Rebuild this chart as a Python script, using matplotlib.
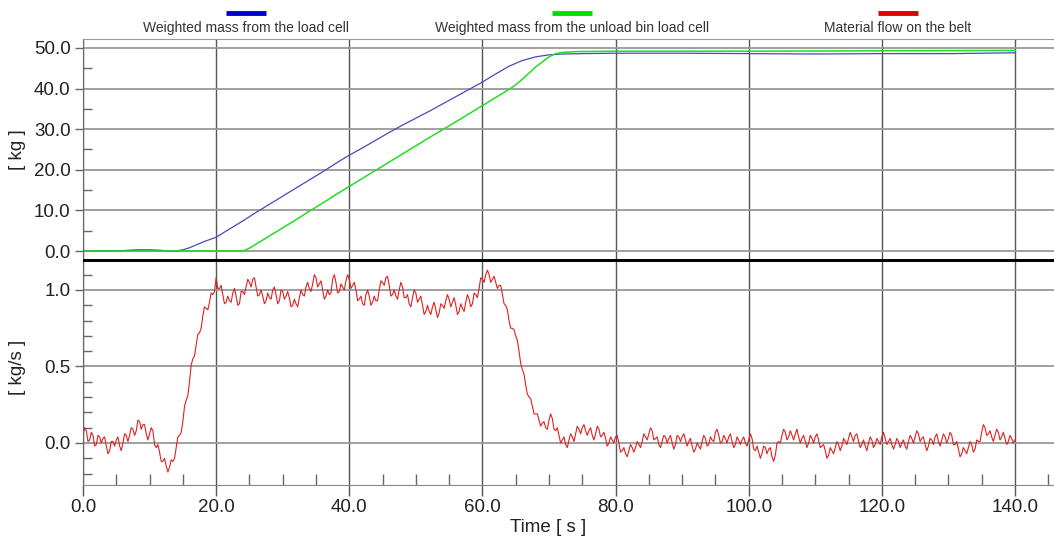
import numpy as np
import matplotlib
matplotlib.use("Agg")
import matplotlib.pyplot as plt
from matplotlib.lines import Line2D
from matplotlib.ticker import MultipleLocator, FormatStrFormatter

plt.rcParams['font.family'] = ['Liberation Sans', 'DejaVu Sans']

# ---- data ----
# weighted mass from the load cell [kg]
t_load = [0, 2, 4, 6, 8, 10, 12, 13, 14, 15, 16, 17, 18, 19, 20, 22, 24, 26, 28, 30,
          32, 34, 36, 38, 40, 42, 44, 46, 48, 50, 52, 54, 56, 58, 60, 62, 64, 66, 68, 70,
          72, 75, 80, 90, 100, 110, 120, 130, 140]
m_load = [0.0, 0.05, 0.0, 0.1, 0.3, 0.3, 0.15, -0.1, 0.0, 0.3, 0.8, 1.5, 2.2, 2.8, 3.4, 5.4, 7.4, 9.5, 11.5, 13.5,
          15.5, 17.5, 19.5, 21.6, 23.6, 25.4, 27.3, 29.2, 31.0, 32.7, 34.4, 36.2, 38.0, 39.8, 41.6, 43.6, 45.5, 46.9, 47.8, 48.3,
          48.5, 48.6, 48.7, 48.7, 48.6, 48.5, 48.6, 48.6, 48.8]

# weighted mass from the unload bin load cell [kg]
t_unload = [0, 10, 20, 24, 25, 26, 28, 30, 32, 34, 36, 38, 40, 44, 48, 52, 56, 60, 62, 64,
            65, 66, 68, 70, 71, 72, 74, 80, 100, 120, 140]
m_unload = [0.0, 0.0, 0.0, 0.0, 0.7, 1.7, 3.7, 5.7, 7.7, 9.8, 11.8, 13.9, 15.9, 19.9, 23.9, 27.9, 31.8, 35.8, 37.8, 39.8,
            40.9, 42.3, 45.3, 47.8, 48.6, 48.9, 49.1, 49.2, 49.2, 49.3, 49.4]

# material flow on the belt [kg/s], values at t = 0, 0.5, 1.0 ... 140 s
t_flow = np.arange(0, 140.5, 0.5)
flow = [
    0.05, 0.08, 0.02, 0.05, -0.01, 0.04, 0.03, -0.02, -0.05, 0.01,
    0.02, -0.02, 0.00, 0.05, 0.05, 0.09, 0.08, 0.14, 0.12, 0.06,
    0.06, 0.08, -0.03, -0.06, -0.12, -0.15, -0.16, -0.12, -0.03, 0.05,
    0.14, 0.28, 0.40, 0.55, 0.64, 0.72, 0.83, 0.88, 0.92, 0.97,
    1.08, 1.01, 0.97, 0.92, 0.93, 0.98, 0.96, 0.91, 0.99, 1.02,
    1.05, 1.07, 1.02, 0.97, 0.96, 0.93, 0.95, 1.00, 0.97, 0.93,
    0.99, 0.96, 0.95, 0.90, 0.91, 0.95, 0.97, 1.02, 1.01, 1.04,
    1.08, 1.04, 1.00, 0.96, 0.97, 1.07, 1.05, 0.99, 1.02, 1.06,
    1.07, 1.03, 1.00, 0.94, 0.91, 0.97, 0.96, 0.92, 0.93, 1.00,
    1.05, 1.08, 1.03, 0.97, 0.96, 1.00, 1.02, 0.95, 0.91, 0.95,
    0.98, 0.94, 0.90, 0.86, 0.86, 0.89, 0.87, 0.85, 0.90, 0.93,
    0.94, 0.92, 0.90, 0.86, 0.88, 0.92, 0.94, 0.91, 0.97, 1.01,
    1.07, 1.10, 1.10, 1.07, 1.05, 1.03, 0.97, 0.90, 0.80, 0.75,
    0.70, 0.60, 0.48, 0.38, 0.30, 0.24, 0.19, 0.15, 0.13, 0.10,
    0.15, 0.16, 0.08, 0.05, 0.02, -0.01, 0.02, 0.04, 0.06, 0.09,
    0.10, 0.08, 0.08, 0.05, 0.06, 0.09, 0.05, 0.03, 0.00, 0.02,
    0.04, 0.00, -0.05, -0.07, -0.05, -0.03, -0.03, -0.01, 0.01, 0.04,
    0.06, 0.08, 0.03, -0.01, 0.01, 0.04, 0.03, 0.00, -0.01, 0.04,
    0.04, 0.02, 0.01, -0.02, -0.04, -0.02, 0.01, 0.03, -0.01, 0.02,
    0.07, 0.05, 0.01, 0.03, 0.04, 0.01, -0.01, 0.02, 0.02, 0.00,
    0.02, 0.03, -0.05, -0.06, -0.07, -0.03, -0.04, -0.09, -0.08, 0.01,
    0.05, 0.07, 0.04, 0.05, 0.06, 0.04, 0.03, 0.01, 0.00, 0.03,
    0.04, 0.02, -0.02, -0.05, -0.08, -0.05, -0.03, -0.01, -0.02, 0.01,
    0.03, 0.04, 0.05, 0.01, -0.01, -0.02, 0.00, 0.02, -0.01, 0.01,
    0.04, 0.03, 0.01, -0.01, -0.01, 0.01, 0.00, -0.02, 0.01, 0.03,
    0.04, 0.06, 0.03, -0.01, -0.02, 0.02, 0.04, 0.01, 0.02, 0.04,
    0.03, 0.05, -0.01, -0.04, -0.07, -0.05, -0.03, -0.01, -0.04, 0.01,
    0.07, 0.10, 0.06, 0.04, 0.05, 0.07, 0.04, 0.03, 0.01, 0.03,
    0.02,
]
# in-between samples (t = 0.25, 0.75 ... 139.75 s), the jitter of the signal
t_flow_q = np.arange(0.25, 140, 0.5)
flow_q = [
    0.10, 0.01, 0.07, -0.02, 0.05, 0.00, 0.04, -0.07, 0.01, -0.02,
    0.04, -0.05, 0.06, 0.01, 0.10, 0.05, 0.15, 0.09, 0.12, 0.02,
    0.10, -0.01, -0.01, -0.12, -0.10, -0.19, -0.11, -0.10, 0.04, 0.07,
    0.24, 0.31, 0.51, 0.57, 0.71, 0.75, 0.89, 0.87, 0.98, 0.99,
    1.01, 1.03, 0.91, 0.96, 0.92, 1.01, 0.90, 0.99, 0.97, 1.07,
    1.02, 1.08, 0.96, 1.00, 0.91, 0.98, 0.94, 1.02, 0.91, 1.00,
    0.94, 0.99, 0.89, 0.94, 0.89, 1.00, 0.96, 1.05, 0.99, 1.10,
    1.02, 1.06, 0.94, 1.00, 0.98, 1.10, 0.98, 1.04, 1.00, 1.10,
    1.01, 1.05, 0.93, 0.96, 0.90, 1.00, 0.90, 0.96, 0.93, 1.06,
    1.03, 1.09, 0.96, 1.00, 0.94, 1.05, 0.95, 0.97, 0.89, 1.00,
    0.92, 0.96, 0.84, 0.90, 0.84, 0.92, 0.82, 0.91, 0.88, 0.97,
    0.89, 0.95, 0.84, 0.91, 0.86, 0.97, 0.89, 0.98, 0.95, 1.08,
    1.05, 1.13, 1.05, 1.09, 1.01, 1.03, 0.91, 0.87, 0.75, 0.74,
    0.67, 0.52, 0.45, 0.32, 0.29, 0.19, 0.19, 0.11, 0.14, 0.09,
    0.19, 0.09, 0.10, 0.00, 0.04, -0.03, 0.06, 0.01, 0.11, 0.06,
    0.12, 0.05, 0.10, 0.02, 0.11, 0.04, 0.07, -0.02, 0.04, 0.00,
    0.05, -0.06, -0.03, -0.09, -0.01, -0.06, 0.01, -0.03, 0.06, 0.02,
    0.10, 0.02, 0.04, -0.03, 0.05, 0.00, 0.05, -0.04, 0.05, 0.01,
    0.06, -0.02, 0.03, -0.06, 0.00, -0.04, 0.05, -0.02, 0.04, 0.01,
    0.09, 0.00, 0.05, 0.00, 0.06, -0.03, 0.04, -0.01, 0.04, -0.02,
    0.06, -0.04, -0.02, -0.10, -0.02, -0.07, -0.03, -0.12, 0.00, 0.00,
    0.09, 0.02, 0.08, 0.02, 0.09, 0.00, 0.05, -0.03, 0.05, 0.00,
    0.06, -0.03, -0.01, -0.10, -0.03, -0.07, 0.01, -0.05, 0.03, -0.01,
    0.07, 0.01, 0.06, -0.03, 0.02, -0.05, 0.04, -0.03, 0.03, -0.01,
    0.07, -0.01, 0.03, -0.04, 0.03, -0.03, 0.02, -0.04, 0.05, 0.00,
    0.08, 0.01, 0.04, -0.05, 0.03, -0.01, 0.06, -0.02, 0.06, 0.00,
    0.07, -0.01, 0.01, -0.09, -0.03, -0.07, 0.01, -0.06, 0.02, 0.01,
    0.12, 0.05, 0.08, 0.01, 0.09, 0.02, 0.07, -0.01, 0.05, 0.00,
]

legend_labels = ['Weighted mass from the load cell',
                 'Weighted mass from the unload bin load cell',
                 'Material flow on the belt']
legend_colors = ['#0000cc', '#00dd00', '#dd0000']

# merge the two sample sets of the flow signal in time order
t_all = np.concatenate([t_flow, t_flow_q])
f_all = np.concatenate([flow, flow_q])
order = np.argsort(t_all)
t_all, f_all = t_all[order], f_all[order]

W, H = 1054, 541
fig = plt.figure(figsize=(W / 100, H / 100), dpi=100)

left = 83 / W
width = 1 - left
ax1 = fig.add_axes([left, 1 - 262.3 / H, width, (262.3 - 39) / H])
ax2 = fig.add_axes([left, 1 - 485 / H, width, (485 - 262.3) / H])

ax1.plot(t_load, m_load, color='#4848c0', lw=0.9)
ax1.plot(t_unload, m_unload, color='#22dd22', lw=1.1)
ax2.plot(t_all, f_all, color='#e02020', lw=0.8)

xmax = (W - 83) / 6.657
ax1.set_xlim(0, xmax)
ax2.set_xlim(0, xmax)
ax1.set_ylim(-2.78, 52.2)
ax2.set_ylim(-0.2745, 1.181)

for ax in (ax1, ax2):
    ax.xaxis.set_major_locator(MultipleLocator(20))
    ax.xaxis.set_minor_locator(MultipleLocator(5))
    ax.grid(True, axis='x', which='major', color='#555555', lw=1.0)
    ax.grid(True, axis='y', which='major', color='#999999', lw=1.3)
    ax.spines['right'].set_visible(False)
    ax.spines['left'].set_color('#666666')
    ax.tick_params(axis='y', which='major', direction='out', length=6, width=1,
                   color='#666666', labelsize=13.5, labelcolor='#222222', pad=3)
    ax.tick_params(axis='y', which='minor', direction='in', length=6.5, width=1, color='#666666')
    ax.set_axisbelow(True)

ax1.yaxis.set_major_locator(MultipleLocator(10))
ax1.yaxis.set_minor_locator(MultipleLocator(5))
ax1.yaxis.set_major_formatter(FormatStrFormatter('%.1f'))
ax1.spines['top'].set_color('#999999')
ax1.spines['bottom'].set_color('black')
ax1.spines['bottom'].set_linewidth(4.3)
ax1.spines['bottom'].set_capstyle('butt')
ax1.tick_params(axis='x', which='both', bottom=False, labelbottom=False)

ax2.yaxis.set_major_locator(MultipleLocator(0.5))
ax2.yaxis.set_minor_locator(MultipleLocator(0.1))
ax2.yaxis.set_major_formatter(FormatStrFormatter('%.1f'))
ax2.spines['top'].set_visible(False)
ax2.spines['bottom'].set_color('#888888')
ax2.xaxis.set_major_formatter(FormatStrFormatter('%.1f'))
ax2.tick_params(axis='x', which='major', direction='out', length=8, width=1,
                color='#555555', labelsize=13.5, labelcolor='#222222', pad=2)
ax2.tick_params(axis='x', which='minor', direction='in', length=8, width=1, color='#666666')

fig.text(18 / W, 1 - 150 / H, '[ kg ]', rotation=90, ha='center', va='center',
         fontsize=13.5, color='#222222')
fig.text(18 / W, 1 - 367 / H, '[ kg/s ]', rotation=90, ha='center', va='center',
         fontsize=13.5, color='#222222')
fig.text(548 / W, 1 - 528 / H, 'Time [ s ]', ha='center', va='center',
         fontsize=13.5, color='#222222')

# legend: coloured bar above each label
legend_x = [246, 572, 898]
for lx, lab, col in zip(legend_x, legend_labels, legend_colors):
    fig.add_artist(Line2D([(lx - 20) / W, (lx + 20) / W], [1 - 12.5 / H, 1 - 12.5 / H],
                          color=col, lw=3.5, solid_capstyle='butt'))
    fig.text(lx / W, 1 - 28 / H, lab, ha='center', va='center', fontsize=10, color='#333333')

fig.savefig('out.png', dpi=100)
